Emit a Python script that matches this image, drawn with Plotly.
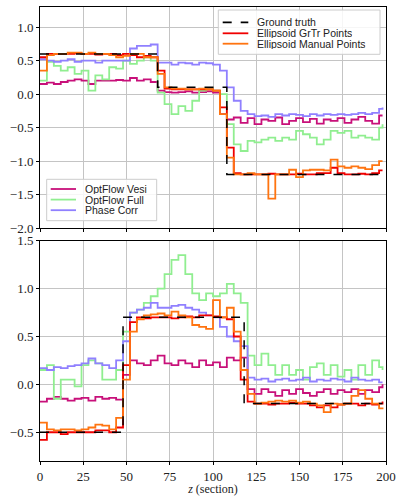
import plotly.graph_objects as go
from plotly.subplots import make_subplots

# ---------------- data ----------------
Z = list(range(0, 200, 4)) + [198]

# top panel
top_truth_z = [0, 68, 108, 198]
top_truth_v = [0.6, 0.1, -1.2, -1.2]
top_grtr = [0.55, 0.6, 0.6, 0.6, 0.6, 0.61, 0.6, 0.6, 0.59, 0.6, 0.6, 0.58, 0.6, 0.58, 0.55, 0.57, 0.55,
            0.35, 0.08, 0.07, 0.07, 0.07, 0.07, 0.07, 0.07, 0.05, -0.2, -0.8, -1.18, -1.2, -1.2, -1.2, -1.2,
            -1.19, -1.2, -1.2, -1.2, -1.19, -1.2, -1.2, -1.18, -1.18, -1.1, -1.18, -1.2, -1.2, -1.19, -1.2,
            -1.18, -1.14, -1.14]
top_manual = [0.35, 0.58, 0.6, 0.6, 0.62, 0.62, 0.6, 0.62, 0.6, 0.6, 0.58, 0.55, 0.57, 0.6, 0.6, 0.55, 0.55,
              0.3, 0.1, 0.08, 0.08, 0.07, 0.07, 0.08, 0.07, 0.05, -0.3, -0.95, -1.2, -1.2, -1.18, -1.2, -1.2,
              -1.56, -1.2, -1.2, -1.13, -1.24, -1.14, -1.13, -1.13, -1.14, -0.98, -1.08, -1.1, -1.08, -1.1,
              -1.12, -1.06, -1.0, -1.0]
top_vesi = [0.15, 0.17, 0.15, 0.18, 0.2, 0.22, 0.2, 0.15, 0.2, 0.2, 0.2, 0.21, 0.2, 0.24, 0.2, 0.22, 0.18,
            0.05, 0.03, 0.02, 0.03, 0.04, 0.02, 0.03, 0.04, 0.02, -0.3, -0.38, -0.35, -0.43, -0.36, -0.45,
            -0.38, -0.4, -0.35, -0.45, -0.4, -0.36, -0.42, -0.37, -0.44, -0.38, -0.4, -0.36, -0.43, -0.38,
            -0.34, -0.4, -0.44, -0.32, -0.32]
top_full = [0.2, 0.48, 0.42, 0.35, 0.4, 0.3, 0.35, 0.05, 0.28, 0.22, 0.4, 0.38, 0.5, 0.45, 0.5, 0.55, 0.5,
            0.02, -0.15, -0.3, -0.18, -0.25, -0.1, 0.05, 0.08, 0.05, 0.0, -0.45, -0.75, -0.85, -0.7, -0.72,
            -0.68, -0.65, -0.7, -0.65, -0.68, -0.55, -0.6, -0.65, -0.75, -0.68, -0.55, -0.58, -0.55, -0.65,
            -0.62, -0.65, -0.68, -0.5, -0.45]
top_phase = [0.52, 0.5, 0.48, 0.5, 0.52, 0.48, 0.5, 0.5, 0.47, 0.5, 0.5, 0.5, 0.5, 0.68, 0.72, 0.72, 0.74,
             0.47, 0.47, 0.44, 0.47, 0.46, 0.44, 0.47, 0.46, 0.44, 0.35, 0.1, -0.1, -0.25, -0.3, -0.33, -0.32,
             -0.34, -0.3, -0.32, -0.3, -0.31, -0.33, -0.3, -0.32, -0.3, -0.31, -0.3, -0.31, -0.3, -0.28,
             -0.3, -0.28, -0.22, -0.2]

# bottom panel
bot_truth_z = [0, 48, 118, 198]
bot_truth_v = [-0.5, 0.7, -0.2, -0.2]
bot_grtr = [-0.58, -0.5, -0.5, -0.52, -0.5, -0.5, -0.5, -0.5, -0.48, -0.48, -0.5, -0.45, 0.2, 0.65, 0.7,
            0.69, 0.7, 0.7, 0.7, 0.69, 0.7, 0.71, 0.7, 0.72, 0.72, 0.71, 0.7, 0.68, 0.5, 0.05, -0.18, -0.2,
            -0.2, -0.21, -0.2, -0.2, -0.19, -0.2, -0.2, -0.22, -0.24, -0.22, -0.24, -0.21, -0.2, -0.2, -0.22,
            -0.2, -0.21, -0.2, -0.18]
bot_manual = [-0.4, -0.47, -0.48, -0.47, -0.47, -0.48, -0.47, -0.45, -0.42, -0.43, -0.47, -0.35, 0.05,
              0.55, 0.68, 0.72, 0.73, 0.74, 0.72, 0.76, 0.72, 0.7, 0.62, 0.6, 0.58, 0.88, 0.7, 0.8, 0.55,
              0.15, -0.1, -0.2, -0.19, -0.18, -0.17, -0.18, -0.17, -0.19, -0.18, -0.2, -0.22, -0.29, -0.2,
              -0.21, -0.2, -0.12, -0.06, -0.15, -0.2, -0.25, -0.26]
bot_vesi = [-0.18, -0.15, -0.13, -0.15, -0.17, -0.15, -0.14, -0.17, -0.13, -0.15, -0.14, -0.16, 0.1, 0.25,
            0.22, 0.2, 0.25, 0.3, 0.22, 0.2, 0.25, 0.22, 0.18, 0.25, 0.2, 0.23, 0.18, 0.28, 0.25, 0.28,
            -0.05, -0.1, -0.05, -0.08, -0.12, -0.06, -0.1, -0.05, -0.09, -0.12, -0.08, -0.05, -0.1, -0.06,
            -0.08, -0.05, -0.1, -0.06, -0.08, -0.03, 0.0]
bot_full = [0.15, 0.2, -0.15, 0.05, 0.05, -0.02, 0.2, 0.25, 0.22, 0.05, 0.05, 0.15, 0.55, 0.75, 0.78, 0.85,
            0.92, 1.0, 1.15, 1.3, 1.35, 1.15, 0.95, 0.88, 0.95, 0.92, 0.95, 1.05, 0.95, 0.85, 0.3, 0.2, 0.32,
            0.2, 0.1, 0.2, 0.1, 0.15, 0.05, 0.18, 0.22, 0.1, 0.2, 0.08, 0.15, 0.05, 0.2, 0.1, 0.25, 0.18, 0.15]
bot_phase = [0.17, 0.15, 0.18, 0.17, 0.19, 0.2, 0.22, 0.27, 0.22, 0.2, 0.17, 0.25, 0.45, 0.75, 0.78, 0.8,
             0.85, 0.8, 0.8, 0.82, 0.83, 0.8, 0.78, 0.75, 0.72, 0.7, 0.6, 0.5, 0.45, 0.4, 0.07, 0.05, 0.06,
             0.03, 0.05, 0.06, 0.04, 0.05, 0.07, 0.03, 0.05, 0.04, 0.06, 0.05, 0.03, 0.07, 0.05, 0.04, 0.05,
             0.02, 0.02]

names = ["Ground truth", "Ellipsoid GrTr Points", "Ellipsoid Manual Points",
         "OptFlow Vesi", "OptFlow Full", "Phase Corr"]
colors = ["black", "#f00000", "#ff7410", "#c8107a", "#90ee90", "#9080ff"]
x_ticks = [0, 25, 50, 75, 100, 125, 150, 175, 200]
top_yticks = [1.0, 0.5, 0.0, -0.5, -1.0, -1.5, -2.0]
bot_yticks = [1.5, 1.0, 0.5, 0.0, -0.5]

# ---------------- figure ----------------
W, H = 396, 496
ML, MR, MT, MB = 40, 10, 7, 35
PW, PH = W - ML - MR, H - MT - MB
top_dom = [(H - MB - 228) / PH, 1.0]
bot_dom = [0.0, (H - MB - 240.7) / PH]

fig = make_subplots(rows=2, cols=1, shared_xaxes=False)

panels = [
    (1, top_truth_z, top_truth_v, [top_grtr, top_manual, top_vesi, top_full, top_phase]),
    (2, bot_truth_z, bot_truth_v, [bot_grtr, bot_manual, bot_vesi, bot_full, bot_phase]),
]
order = [2, 3, 4, 0, 1]  # draw Vesi, Full, Phase first, then GrTr, Manual
for row, tz, tv, series in panels:
    for k in order:
        vals = series[k]
        fig.add_trace(go.Scatter(x=Z, y=vals, mode="lines", line_shape="hv",
                                 line=dict(color=colors[k + 1], width=1.8),
                                 showlegend=False, name=names[k + 1]), row=row, col=1)
    fig.add_trace(go.Scatter(x=tz, y=tv, mode="lines", line_shape="hv",
                             line=dict(color=colors[0], width=1.5, dash="dash"),
                             showlegend=False, name=names[0]), row=row, col=1)

serif = "Liberation Serif"
axis_common = dict(showline=True, mirror=True, linecolor="black", linewidth=1,
                   showgrid=True, gridcolor="#c4c4c4", gridwidth=1, zeroline=False,
                   ticks="outside", ticklen=3, tickcolor="black", automargin=False,
                   tickfont=dict(family=serif, size=13, color="#222"))

fig.update_xaxes(range=[0, 200], tickvals=x_ticks, **axis_common)
fig.update_xaxes(showticklabels=False, row=1, col=1)
fig.update_xaxes(title=dict(text="<i>z</i> (section)", font=dict(family=serif, size=12, color="#222"),
                            standoff=3), row=2, col=1)
fig.update_yaxes(range=[-2.0, 1.3], tickvals=top_yticks, tickformat=".1f", row=1, col=1, **axis_common)
fig.update_yaxes(range=[-0.8, 1.5], tickvals=bot_yticks, tickformat=".1f", row=2, col=1, **axis_common)
fig.update_layout(yaxis=dict(domain=top_dom), yaxis2=dict(domain=bot_dom),
                  xaxis=dict(domain=[0, 1]), xaxis2=dict(domain=[0, 1]))

# ---------------- manual legends (top panel) ----------------
def dx(px):
    return (px - ML) / PW

def dy(py):
    return (228 - py) / (228 - MT)

shapes = []
annotations = []

def legend_box(x0, y0, x1, y1, rows, line_x0, line_x1, text_x, idxs):
    shapes.append(dict(type="rect", xref="x domain", yref="y domain",
                       x0=dx(x0), x1=dx(x1), y0=dy(y1), y1=dy(y0),
                       line=dict(color="#cccccc", width=1), fillcolor="rgba(255,255,255,0.85)",
                       layer="above"))
    for ry, i in zip(rows, idxs):
        shapes.append(dict(type="line", xref="x domain", yref="y domain",
                           x0=dx(line_x0), x1=dx(line_x1), y0=dy(ry), y1=dy(ry),
                           line=dict(color=colors[i], width=1.8, dash="dash" if i == 0 else "solid"),
                           layer="above"))
        annotations.append(dict(xref="x domain", yref="y domain", x=dx(text_x), y=dy(ry),
                                text=names[i], showarrow=False, xanchor="left", yanchor="middle",
                                borderpad=0, height=10,
                                font=dict(family="Liberation Sans", size=10.5, color="#222")))

legend_box(218.3, 10, 380, 54.3, [22.3, 33.3, 43.7], 222.7, 248.3, 255.5, [0, 1, 2])
legend_box(46.7, 179.3, 156.7, 220.7, [189, 199.6, 210.2], 50.7, 76, 84, [3, 4, 5])

fig.update_layout(shapes=shapes, annotations=annotations,
                  width=W, height=H, margin=dict(l=ML, r=MR, t=MT, b=MB),
                  plot_bgcolor="white", paper_bgcolor="white")

fig.write_html("out.html", config={"displayModeBar": False},
               post_script="document.body.style.margin='0';document.body.style.overflow='hidden';")
